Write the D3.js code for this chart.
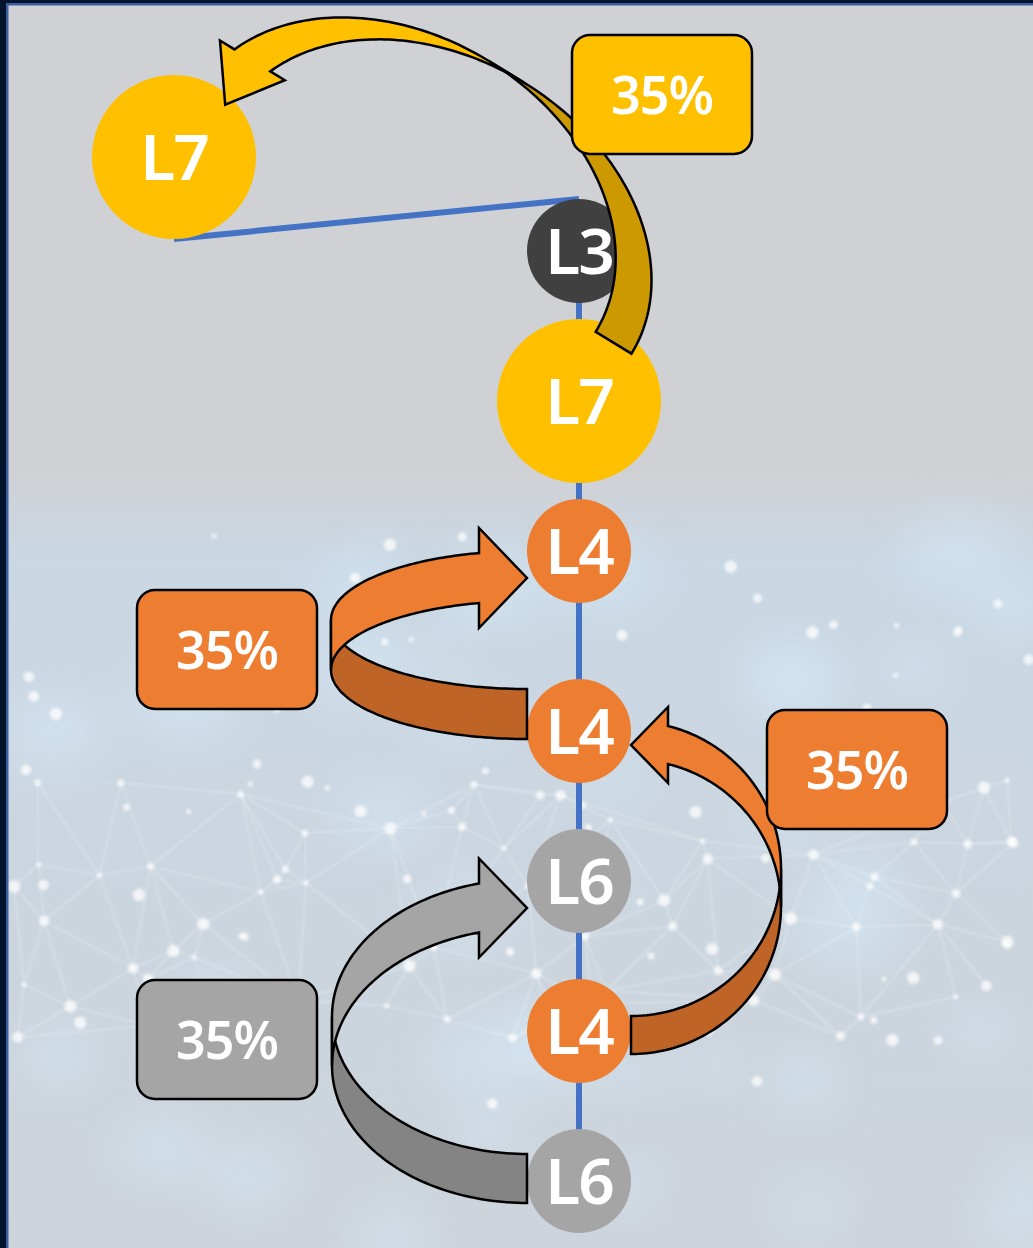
<!DOCTYPE html>
<html>
<head>
<meta charset="utf-8">
<script src="https://cdn.jsdelivr.net/npm/d3@7"></script>
<style>
    html, body { margin: 0; padding: 0; background: #D0D1D5; }
    svg { display: block; }
</style>
</head>
<body>
<div id="chart"></div>
<script>
// chain of levels, top to bottom
const chainLabels = ["L3", "L7", "L4", "L4", "L6", "L4", "L6"];
const floatLabel  = "L7";

// flows: source / target index in the chain (-1 = the detached L7)
const flowFrom   = [1, 3, 5, 6];
const flowTo     = [-1, 2, 3, 4];
const flowShares = [35, 35, 35, 35];

const levelColors = {L3: "#404040", L4: "#ED7D31", L6: "#A5A5A5", L7: "#FFC000"};

const W = 1033, H = 1248;
const chainX = 579;
const floatPos = {x: 174, y: 157};

const yScale = d3.scaleOrdinal(d3.range(chainLabels.length),
    [251, 401, 551, 731, 881, 1031, 1181]);
const rScale = d3.scaleOrdinal(["L7"], [82]).unknown(52);

// arrow shapes: ellipse ribbon with a twist, per flow
const flowGeom = [
    {x0: 397, y0: 210, rot: 31.5, a: 175, b: 233, w: 42, hl: 52, hb: 17},
    {side: -1, a: 196, w: 50, hl: 48, hb: 25, tipDy: 27, tailDy: -17},
    {side: 1, a: 150, w: 38, hl: 37, hb: 19, tipDy: 14, tailDy: 4},
    {side: -1, a: 195, w: 49, hl: 48, hb: 25, tipDy: 27, tailDy: -2.5}
];
const boxCenters = [[662, 94.5], [227, 649.5], [857, 769.5], [227, 1039.5]];
const boxW = 180, boxH = 119;

const svg = d3.select("#chart").append("svg")
    .attr("width", W)
    .attr("height", H);

const defs = svg.append("defs");
defs.append("filter").attr("id", "haze")
    .attr("x", "-50%").attr("y", "-50%").attr("width", "200%").attr("height", "200%")
    .append("feGaussianBlur").attr("stdDeviation", 22);
defs.append("filter").attr("id", "glow")
    .attr("x", "-100%").attr("y", "-100%").attr("width", "300%").attr("height", "300%")
    .append("feGaussianBlur").attr("stdDeviation", 1.8);
defs.append("filter").attr("id", "soft")
    .append("feGaussianBlur").attr("stdDeviation", 0.8);

const grad = defs.append("linearGradient").attr("id", "band")
    .attr("x1", 0).attr("y1", 0).attr("x2", 0).attr("y2", 1);
[[0, 0], [0.12, 0.55], [0.45, 0.4], [1, 0.22]].forEach(s => {
    grad.append("stop").attr("offset", s[0])
        .attr("stop-color", "#C4DDF0").attr("stop-opacity", s[1]);
});

// background
svg.append("rect").attr("width", W).attr("height", H).attr("fill", "#D0D1D5");
svg.append("rect").attr("y", 470).attr("width", W).attr("height", H - 470)
    .attr("fill", "url(#band)");

// network texture (fixed seed)
const rnd = d3.randomLcg(7);
const bg = svg.append("g");
const blobs = d3.range(40).map(() => [rnd() * W, 520 + rnd() * 720, 20 + rnd() * 40]);
bg.selectAll("ellipse.blob").data(blobs).enter().append("ellipse")
    .attr("cx", d => d[0]).attr("cy", d => d[1])
    .attr("rx", d => d[2]).attr("ry", d => d[2] * 0.7)
    .attr("fill", "#D6EAF8").attr("opacity", 0.5)
    .attr("filter", "url(#haze)");

const pts = d3.range(70).map(() => [10 + rnd() * (W - 10), 780 + rnd() * 260]);
const delaunay = d3.Delaunay.from(pts);
const edges = [];
const {halfedges, triangles} = delaunay;
for (let i = 0; i < halfedges.length; i++) {
    const j = halfedges[i];
    if (j < i) continue;
    const p = pts[triangles[i]];
    const q = pts[triangles[i % 3 === 2 ? i - 2 : i + 1]];
    if (Math.hypot(p[0] - q[0], p[1] - q[1]) < 170) edges.push([p, q]);
}
bg.selectAll("line.net").data(edges).enter().append("line")
    .attr("x1", d => d[0][0]).attr("y1", d => d[0][1])
    .attr("x2", d => d[1][0]).attr("y2", d => d[1][1])
    .attr("stroke", "#F2F7FB").attr("stroke-width", 1.6).attr("opacity", 0.3)
    .attr("filter", "url(#soft)");

const dots = pts.concat(d3.range(70).map(() => [10 + rnd() * (W - 10), 520 + rnd() * 600]));
bg.selectAll("circle.dot").data(dots).enter().append("circle")
    .attr("cx", d => d[0]).attr("cy", d => d[1])
    .attr("r", (d, i) => 2.5 + (i * 7 % 5) * 0.9)
    .attr("fill", "#FFFFFF").attr("opacity", 0.75)
    .attr("filter", "url(#glow)");

// frame
svg.append("rect").attr("width", 6).attr("height", H).attr("fill", "#03142C");
svg.append("rect").attr("width", W).attr("height", 3).attr("fill", "#03142C");
svg.append("rect").attr("x", 6).attr("y", 3).attr("width", 2.5).attr("height", H).attr("fill", "#3C5E9E");
svg.append("rect").attr("x", 6).attr("y", 3).attr("width", W).attr("height", 2.5).attr("fill", "#3C5E9E");

// connectors
const link = svg.append("g").attr("stroke", "#4472C4").attr("stroke-width", 6);
link.append("line")
    .attr("x1", chainX).attr("y1", yScale(0))
    .attr("x2", chainX).attr("y2", yScale(chainLabels.length - 1));
link.append("line")
    .attr("x1", floatPos.x).attr("y1", floatPos.y + rScale(floatLabel))
    .attr("x2", chainX).attr("y2", yScale(0) - rScale(chainLabels[0]));

// nodes
const nodes = chainLabels.map((l, i) => ({label: l, x: chainX, y: yScale(i)}))
    .concat([{label: floatLabel, x: floatPos.x, y: floatPos.y}]);
const node = svg.append("g").selectAll("g").data(nodes).enter().append("g")
    .attr("transform", d => "translate(" + d.x + "," + d.y + ")");
node.append("circle")
    .attr("r", d => rScale(d.label))
    .attr("fill", d => levelColors[d.label]);
node.append("text")
    .attr("text-anchor", "middle")
    .attr("y", 23)
    .attr("fill", "#FFFFFF")
    .attr("style", "font-family: 'Noto Sans', 'Open Sans', sans-serif; font-size: 64px; font-weight: 600; letter-spacing: -2px;")
    .text(d => d.label);

// curved ribbon arrow in a local frame: tip points +x at x=0
function arrowPaths(g) {
    const {a, b, w, hl, hb} = g;
    const n = 60;
    const ph = Math.PI + Math.acos(hl / a);
    const arc = (cy, t0, t1) => d3.range(n + 1).map(k => {
        const t = t0 + (t1 - t0) * k / n;
        return [a * Math.cos(t), cy + b * Math.sin(t)];
    });
    const vh = b * Math.sin(ph);
    const back = arc(w, Math.PI, Math.PI / 2).concat(arc(0, Math.PI / 2, Math.PI));
    const front = arc(0, Math.PI, ph)
        .concat([[-hl, vh - hb], [0, vh + w / 2], [-hl, vh + w + hb]])
        .concat(arc(w, ph, Math.PI));
    const line = d3.line();
    return {back: line(back) + "Z", front: line(front) + "Z"};
}

const arrows = svg.append("g");
flowFrom.forEach((from, i) => {
    const g = Object.assign({}, flowGeom[i]);
    const color = levelColors[chainLabels[from]];
    let transform;
    if (flowTo[i] < 0) {
        transform = "translate(" + g.x0 + "," + g.y0 + ") rotate(" + g.rot + ") matrix(0,1,1,0,0,0)";
    } else {
        const tipY = yScale(flowTo[i]) + g.tipDy;
        const tailY = yScale(from) + g.tailDy;
        const s1 = Math.sqrt(1 - (g.hl / g.a) ** 2);
        g.b = (tailY - tipY) / (1 + s1);
        const cy = tailY - g.b - g.w / 2;
        const xe = chainX + g.side * rScale(chainLabels[from]);
        transform = "translate(" + xe + "," + cy + ")" + (g.side > 0 ? " scale(-1,1)" : "");
    }
    const p = arrowPaths(g);
    const ga = arrows.append("g").attr("transform", transform)
        .attr("stroke", "#000").attr("stroke-width", 2.5).attr("stroke-linejoin", "miter");
    ga.append("path").attr("d", p.back).attr("fill", d3.color(color).darker(0.62));
    ga.append("path").attr("d", p.front).attr("fill", color);
});

// share boxes
const box = svg.append("g").selectAll("g").data(flowShares).enter().append("g")
    .attr("transform", (d, i) => "translate(" + boxCenters[i][0] + "," + boxCenters[i][1] + ")");
box.append("rect")
    .attr("x", -boxW / 2).attr("y", -boxH / 2)
    .attr("width", boxW).attr("height", boxH)
    .attr("rx", 18)
    .attr("fill", (d, i) => levelColors[chainLabels[flowFrom[i]]])
    .attr("stroke", "#000").attr("stroke-width", 2.5);
box.append("text")
    .attr("text-anchor", "middle")
    .attr("y", 19)
    .attr("fill", "#FFFFFF")
    .attr("style", "font-family: 'Noto Sans', 'Open Sans', sans-serif; font-size: 52px; font-weight: 600; letter-spacing: -1px;")
    .text(d => d + "%");
</script>
</body>
</html>
